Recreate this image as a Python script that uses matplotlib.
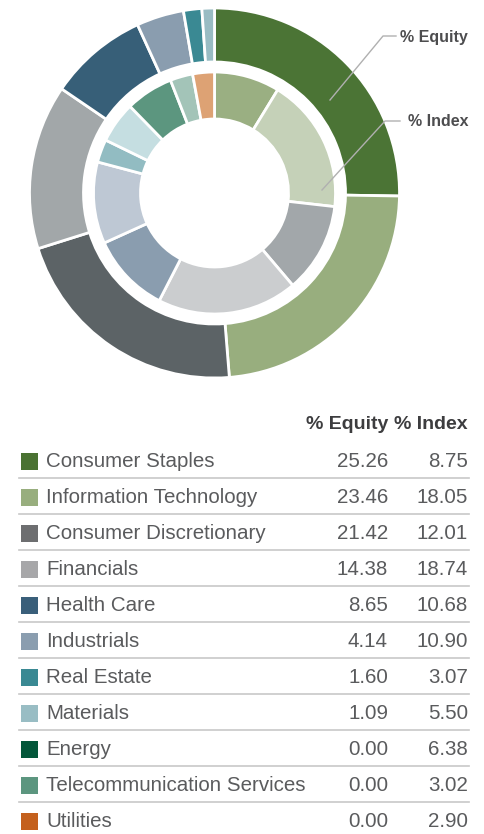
import matplotlib.pyplot as plt
from matplotlib.patches import Rectangle

sectors = ['Consumer Staples', 'Information Technology', 'Consumer Discretionary',
           'Financials', 'Health Care', 'Industrials', 'Real Estate', 'Materials',
           'Energy', 'Telecommunication Services', 'Utilities']
equity = [25.26, 23.46, 21.42, 14.38, 8.65, 4.14, 1.60, 1.09, 0.00, 0.00, 0.00]
index = [8.75, 18.05, 12.01, 18.74, 10.68, 10.90, 3.07, 5.50, 6.38, 3.02, 2.90]

swatch_colors = ['#4a7232', '#98ae7e', '#6d6e70', '#a7a7a9', '#3a5f7a', '#8a9daf',
                 '#3a8993', '#99bdc4', '#03573a', '#5c967f', '#c4601d']
outer_colors = ['#4b7435', '#98ae7e', '#5c6366', '#a2a7a9', '#375f78', '#8a9daf',
                '#3a8993', '#99bcc3', '#03573a', '#5c967f', '#c4601d']
inner_colors = ['#9aaf82', '#c5d1b8', '#a2a7aa', '#cbcdcf', '#8a9daf', '#bec8d4',
                '#92bcc2', '#c5dee1', '#5c967f', '#a3c4b8', '#dda274']

plt.rcParams['font.family'] = ['Liberation Sans', 'DejaVu Sans']
W, H = 484, 834
fig = plt.figure(figsize=(W / 100, H / 100), dpi=100)
ax = fig.add_axes([0, 0, 1, 1])

cx, cy = 214.5, H - 193
wp = dict(edgecolor='white', linewidth=2)

# outer ring: equity weights
eq_vals = [v for v in equity if v > 0]
ax.pie(eq_vals, colors=outer_colors[:len(eq_vals)], startangle=90, counterclock=False,
       radius=185, center=(cx, cy), wedgeprops=dict(width=54, **wp))
# inner ring: index weights
ax.pie(index, colors=inner_colors, startangle=90, counterclock=False,
       radius=121, center=(cx, cy), wedgeprops=dict(width=47, **wp))

ax.set_xlim(0, W)
ax.set_ylim(0, H)
ax.set_aspect('equal')
ax.axis('off')

# ring callouts
line_kw = dict(color='#b0b0b0', linewidth=1)
ax.plot([330, 383, 396], [H - 100, H - 36, H - 36], **line_kw)
ax.plot([322, 385, 400], [H - 190, H - 121, H - 121], **line_kw)
ax.text(468, H - 37, '% Equity', ha='right', va='center', fontsize=11.5,
        fontweight='bold', color='#4d4d4f')
ax.text(468, H - 121, '% Index', ha='right', va='center', fontsize=11.5,
        fontweight='bold', color='#4d4d4f')

# table
txt = '#5a5b5d'
head_y = H - 424
ax.text(388, head_y, '% Equity', ha='right', va='center', fontsize=14,
        fontweight='bold', color='#3d3d3f')
ax.text(468, head_y, '% Index', ha='right', va='center', fontsize=14,
        fontweight='bold', color='#3d3d3f')
for i, name in enumerate(sectors):
    y = H - (461.5 + 36 * i)
    ax.add_patch(Rectangle((21, y - 8), 17, 17, facecolor=swatch_colors[i], edgecolor='none'))
    ax.text(46, y, name, ha='left', va='center', fontsize=14.8, color=txt)
    ax.text(388, y, f'{equity[i]:.2f}', ha='right', va='center', fontsize=14.8, color=txt)
    ax.text(468, y, f'{index[i]:.2f}', ha='right', va='center', fontsize=14.8, color=txt)
    if i < len(sectors) - 1:
        ax.plot([19, 469], [y - 16.5, y - 16.5], color='#c8c8c8', linewidth=1.2)

fig.savefig('out.png', dpi=100)
